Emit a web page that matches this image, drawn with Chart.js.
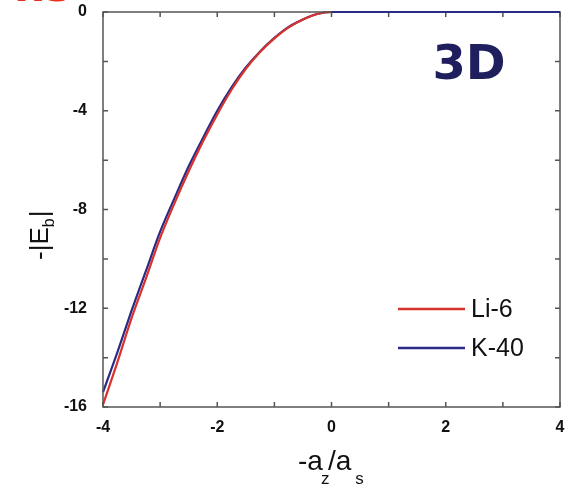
<!DOCTYPE html>
<html>
<head>
<meta charset="utf-8">
<script src="https://cdn.jsdelivr.net/npm/chart.js@4.4.1/dist/chart.umd.min.js"></script>
<style>
  html,body{margin:0;padding:0;background:#fff;}
  #wrap{width:565px;height:491px;}
</style>
</head>
<body>
<div id="wrap"><canvas id="ebChart" width="565" height="491"></canvas></div>
<script>
// values
const xVals = [-4, -3.75, -3.5, -3.25, -3, -2.75, -2.5, -2.25, -2, -1.75, -1.5, -1.25, -1, -0.75, -0.5, -0.25, 0, 1, 2, 3, 4];
const li6   = [-15.9, -14.2, -12.4, -10.8, -9.15, -7.75, -6.45, -5.25, -4.15, -3.15, -2.3, -1.62, -1.07, -0.62, -0.3, -0.08, 0, 0, 0, 0, 0];
const k40   = [-15.4, -13.8, -12.1, -10.5, -8.9, -7.55, -6.25, -5.1, -4.0, -3.05, -2.25, -1.6, -1.05, -0.6, -0.3, -0.08, 0, 0, 0, 0, 0];
const seriesNames = ['Li-6', 'K-40'];
const seriesColors = ['#d8322c', '#2b2a86'];
const xLabelTicks = [-4, -2, 0, 2, 4];
const yLabelTicks = [0, -4, -8, -12, -16];

const toPts = ys => xVals.map((x,i)=>({x:x, y:ys[i]}));

// frame, inward ticks, legend, titles
const decor = {
  id:'decor',
  afterDatasetsDraw(chart){
    const {ctx, chartArea:a, scales:{x, y}} = chart;
    ctx.save();
    ctx.strokeStyle = '#555';
    ctx.lineWidth = 1.5;
    ctx.strokeRect(a.left, a.top, a.right-a.left, a.bottom-a.top);
    ctx.beginPath();
    for(let v=-4; v<=4; v++){
      const px = x.getPixelForValue(v);
      ctx.moveTo(px, a.bottom); ctx.lineTo(px, a.bottom-5);
      ctx.moveTo(px, a.top); ctx.lineTo(px, a.top+5);
    }
    for(let v=-16; v<=0; v+=2){
      const py = y.getPixelForValue(v);
      ctx.moveTo(a.left, py); ctx.lineTo(a.left+5, py);
      ctx.moveTo(a.right, py); ctx.lineTo(a.right-5, py);
    }
    ctx.stroke();

    // redraw the curves along the top edge so they sit over the frame
    chart.data.datasets.forEach((ds,i)=>{
      const meta = chart.getDatasetMeta(i);
      ctx.strokeStyle = ds.borderColor; ctx.lineWidth = ds.borderWidth;
      ctx.beginPath();
      meta.data.forEach((p,j)=>{ if(ds.data[j].y===0){ if(j===0||ds.data[j-1].y!==0) ctx.moveTo(p.x,p.y); else ctx.lineTo(p.x,p.y);} });
      ctx.stroke();
    });

    // legend
    ctx.font = '25px "Liberation Sans", Arial, sans-serif';
    ctx.textBaseline = 'middle';
    chart.data.datasets.forEach((ds,i)=>{
      const ly = 309 + i*39;
      ctx.strokeStyle = ds.borderColor; ctx.lineWidth = 2.5;
      ctx.beginPath(); ctx.moveTo(398, ly); ctx.lineTo(465, ly); ctx.stroke();
      ctx.fillStyle = '#111';
      ctx.fillText(ds.label, 471, ly+1);
    });

    // 3D tag
    ctx.fillStyle = '#1f1f5e';
    ctx.font = 'bold 48px "DejaVu Sans", sans-serif';
    ctx.textAlign = 'center';
    ctx.fillText('3D', 469, 67);

    // y title  -|E_b|
    ctx.save();
    ctx.translate(48, 230);
    ctx.rotate(-Math.PI/2);
    ctx.fillStyle = '#111';
    ctx.textAlign = 'left';
    ctx.textBaseline = 'alphabetic';
    ctx.font = '26px "Liberation Sans", Arial, sans-serif';
    const w = ctx.measureText('-|E').width;
    ctx.fillText('-|E', -30, 0);
    ctx.font = '16px "Liberation Sans", Arial, sans-serif';
    ctx.fillText('b', -30+w, 6); const wb = ctx.measureText('b').width;
    ctx.font = '26px "Liberation Sans", Arial, sans-serif';
    ctx.fillText('|', -30+w+wb+1, 0);
    ctx.restore();

    // x title  -a_z/a_s
    ctx.fillStyle = '#111';
    ctx.textAlign = 'left';
    ctx.textBaseline = 'alphabetic';
    let cx = 298;
    const big = '28px "Liberation Sans", Arial, sans-serif';
    const small = '17px "Liberation Sans", Arial, sans-serif';
    ctx.font = big; ctx.fillText('-a', cx, 470); cx += ctx.measureText('-a').width;
    ctx.font = small; ctx.fillText('z', cx-2, 484);
    ctx.font = big; ctx.fillText('/a', cx+5, 470); cx += 5 + ctx.measureText('/a').width;
    ctx.font = small; ctx.fillText('s', cx+4, 484);

    // cut-off red heading at top left
    ctx.fillStyle = '#e8321e';
    ctx.font = 'bold 44px "DejaVu Sans", sans-serif';
    ctx.fillText('ns', 14, 1);
    ctx.restore();
  }
};

new Chart(document.getElementById('ebChart'), {
  type:'line',
  data:{
    datasets:[
      {label:seriesNames[0], data:toPts(li6), borderColor:seriesColors[0], borderWidth:2.2, pointRadius:0, tension:0.3, clip:false},
      {label:seriesNames[1], data:toPts(k40), borderColor:seriesColors[1], borderWidth:2.2, pointRadius:0, tension:0.3, clip:false}
    ]
  },
  options:{
    responsive:false,
    animation:false,
    layout:{padding:{left:0, right:5, top:11, bottom:0}},
    plugins:{legend:{display:false}, tooltip:{enabled:false}},
    scales:{
      x:{
        type:'linear', min:-4, max:4,
        grid:{display:false}, border:{display:false},
        afterFit: s => { s.height = 84; s.paddingRight = 0; s.paddingLeft = 0; },
        ticks:{stepSize:1, padding:3, color:'#111',
          font:{family:'"Liberation Sans", Arial, sans-serif', size:16, weight:'bold'},
          callback: v => xLabelTicks.includes(v) ? v : ''}
      },
      y:{
        min:-16, max:0,
        grid:{display:false}, border:{display:false},
        afterFit: s => { s.width = 103; },
        ticks:{stepSize:2, padding:8, color:'#111',
          font:{family:'"Liberation Sans", Arial, sans-serif', size:16, weight:'bold', lineHeight:0.5},
          callback: v => yLabelTicks.includes(v) ? v : ''}
      }
    }
  },
  plugins:[decor]
});
</script>
</body>
</html>
